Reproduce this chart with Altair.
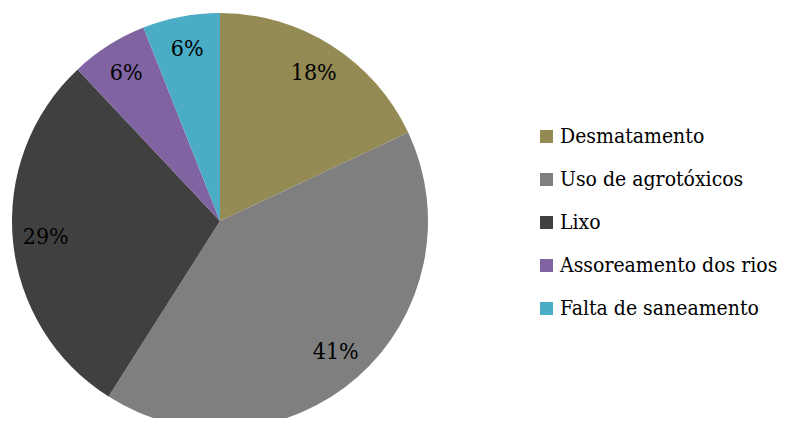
import altair as alt
import pandas as pd

categorias = ["Desmatamento", "Uso de agrotóxicos", "Lixo", "Assoreamento dos rios", "Falta de saneamento"]
percentuais = [18, 41, 29, 6, 6]
cores = ["#948A54", "#7F7F7F", "#404040", "#8064A2", "#4BACC6"]

df = pd.DataFrame({
    "categoria": categorias,
    "valor": percentuais,
    "ordem": list(range(len(categorias))),
})
df["rotulo"] = df["valor"].astype(str) + "%"

FONT = "DejaVu Serif Condensed"

base = alt.Chart(df).encode(
    theta=alt.Theta("valor:Q", stack=True),
    order=alt.Order("ordem:Q"),
    x=alt.value(212),
    y=alt.value(213),
)

pie = base.mark_arc(radius=208, stroke=None).encode(
    color=alt.Color(
        "categoria:N",
        sort=categorias,
        scale=alt.Scale(domain=categorias, range=cores),
        legend=alt.Legend(
            title=None,
            orient="none",
            legendX=528,
            legendY=118,
            symbolType="square",
            symbolSize=169,
            symbolStrokeWidth=0,
            labelFont=FONT,
            labelFontSize=21,
            labelColor="black",
            labelOffset=3,
            rowPadding=21,
            padding=0,
            labelLimit=400,
        ),
    )
)

labels = base.mark_text(radius=175, font=FONT, fontSize=23, color="black",
                        align="center", baseline="middle").encode(text="rotulo:N")

chart = (pie + labels).properties(
    width=775, height=410, autosize=alt.AutoSizeParams(type="none"), padding=0
).configure_view(stroke=None)

chart.save("out.html", embed_options={"renderer": "svg", "actions": False})
